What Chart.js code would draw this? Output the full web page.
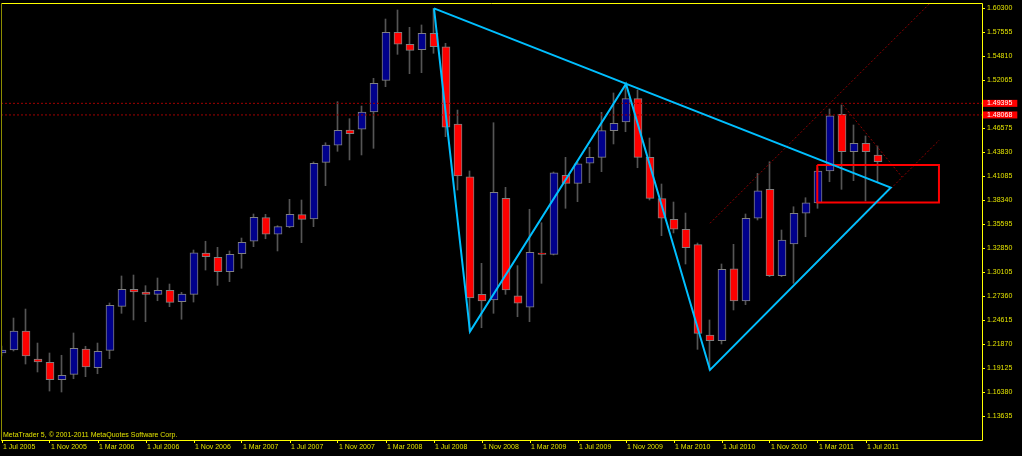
<!DOCTYPE html>
<html>
<head>
<meta charset="utf-8">
<script src="https://cdn.jsdelivr.net/npm/chart.js@4/dist/chart.umd.min.js"></script>
<style>
html,body{margin:0;padding:0;background:#000;overflow:hidden}
#wrap{position:relative;width:1022px;height:456px}
canvas{display:block}
</style>
</head>
<body>
<div id="wrap"><canvas id="c" width="1022" height="456"></canvas></div>
<script>
// Monthly EURUSD candles, index 0 = Jul 2005
const openP = [1.2084,1.2118,1.2336,1.2015,1.1978,1.1779,1.1840,1.2130,1.1916,1.2115,
  1.2618,1.2813,1.2782,1.2755,1.2801,1.2671,1.2755,1.3228,1.3179,1.3014,
  1.3220,1.3362,1.3632,1.3442,1.3525,1.3666,1.3617,1.4265,1.4460,1.4635,
  1.4643,1.4841,1.5203,1.5752,1.5615,1.5553,1.5741,1.5587,1.4703,1.4100,
  1.2755,1.2690,1.3853,1.2739,1.2607,1.3228,1.3213,1.4117,1.4025,1.4254,
  1.4322,1.4627,1.4726,1.4993,1.4322,1.3849,1.3613,1.3499,1.3323,1.2290,
  1.2225,1.3048,1.2679,1.3625,1.3956,1.2968,1.3331,1.3682,1.3800,1.4166,
  1.4814,1.4386,1.4483,1.4349];
const highP = [1.2164,1.2484,1.2587,1.2198,1.2084,1.2058,1.2313,1.2161,1.2198,1.2656,
  1.2965,1.2976,1.2854,1.2942,1.2873,1.2778,1.3262,1.3362,1.3293,1.3251,
  1.3399,1.3674,1.3670,1.3540,1.3842,1.3834,1.4269,1.4489,1.4958,1.4764,
  1.4909,1.5226,1.5904,1.6007,1.5809,1.5836,1.6025,1.5626,1.4863,1.4166,
  1.3110,1.4718,1.3979,1.3083,1.3728,1.3574,1.4154,1.4322,1.4265,1.4437,
  1.4837,1.5058,1.5161,1.5092,1.4543,1.4017,1.3811,1.3685,1.3342,1.2462,
  1.3102,1.3327,1.3674,1.4139,1.4272,1.3491,1.3757,1.3860,1.4200,1.4875,
  1.4921,1.4692,1.4566,1.4452];
const lowP = [1.2050,1.2107,1.1958,1.1867,1.1649,1.1638,1.1790,1.1813,1.1847,1.2019,
  1.2538,1.2462,1.2442,1.2682,1.2614,1.2470,1.2667,1.3033,1.2858,1.2900,
  1.3053,1.3300,1.3391,1.3251,1.3517,1.3346,1.3529,1.3998,1.4391,1.4292,
  1.4349,1.4425,1.5130,1.5500,1.5279,1.5290,1.5512,1.4558,1.3948,1.2330,
  1.2373,1.2538,1.2755,1.2499,1.2442,1.2881,1.3205,1.3739,1.3815,1.4032,
  1.4158,1.4475,1.4615,1.4203,1.3834,1.3426,1.3457,1.3102,1.2126,1.1890,
  1.2187,1.2576,1.2637,1.3605,1.2957,1.2957,1.2881,1.3414,1.3739,1.4043,
  1.3956,1.4055,1.3823,1.4043];
const closeP = [1.2118,1.2336,1.2050,1.1981,1.1779,1.1829,1.2138,1.1924,1.2104,1.2630,
  1.2813,1.2782,1.2755,1.2801,1.2664,1.2759,1.3231,1.3186,1.3014,1.3213,
  1.3350,1.3636,1.3442,1.3529,1.3670,1.3613,1.4254,1.4463,1.4631,1.4592,
  1.4841,1.5169,1.5752,1.5615,1.5546,1.5741,1.5587,1.4666,1.4109,1.2713,
  1.2679,1.3922,1.2805,1.2653,1.3236,1.3213,1.4146,1.4025,1.4249,1.4322,
  1.4627,1.4711,1.4993,1.4322,1.3853,1.3625,1.3499,1.3288,1.2309,1.2225,
  1.3041,1.2679,1.3625,1.3940,1.2968,1.3377,1.3682,1.3803,1.4166,1.4798,
  1.4386,1.4483,1.4386,1.4272];

// Axis ticks
const xTickValues = [0,4,8,12,16,20,24,28,32,36,40,44,48,52,56,60,64,68,72];
const xTickLabels = ['1 Jul 2005','1 Nov 2005','1 Mar 2006','1 Jul 2006','1 Nov 2006','1 Mar 2007',
  '1 Jul 2007','1 Nov 2007','1 Mar 2008','1 Jul 2008','1 Nov 2008','1 Mar 2009','1 Jul 2009',
  '1 Nov 2009','1 Mar 2010','1 Jul 2010','1 Nov 2010','1 Mar 2011','1 Jul 2011'];
const yTickValues = [1.13635,1.16380,1.19125,1.21870,1.24615,1.27360,1.30105,1.32850,1.35595,
  1.38340,1.41085,1.43830,1.46575,1.48068,1.49395,1.52065,1.54810,1.57555,1.60300];
const priceLevels = [1.49395,1.48068];

// Drawn objects
const patternX = [36,39,52,59,74.06,36];
const patternY = [1.6025,1.2330,1.5161,1.1890,1.3975,1.6025];
const channelUpperX = [59,77.27];
const channelUpperY = [1.3568,1.6076];
const channelLowerX = [59,78.11];
const channelLowerY = [1.1890,1.4520];
const fanX = [70.08,75.0];
const fanY = [1.4921,1.4097];
const boxX = [67.94,78.08,78.08,67.94,67.94];
const boxY = [1.4234,1.4234,1.3806,1.3806,1.4234];

const X_MIN = -1/12, X_MAX = 81 + 8/12;
const Y_MAX = 1.60872, Y_MIN = 1.10890;

const monthIndex = openP.map((_, i) => i);
const wickShift = 0.5 / 12;
const pts = (xs, ys) => xs.map((x, k) => ({x: x, y: ys[k]}));

const YELLOW = '#ffff00';
const TEXT = '#e2e200';

Chart.defaults.font.family = '"Liberation Sans", Arial, sans-serif';
Chart.defaults.font.size = 7;

const framePlugin = {
  id: 'frame',
  beforeDraw(chart) {
    const ctx = chart.ctx;
    ctx.save();
    ctx.fillStyle = '#000';
    ctx.fillRect(0, 0, chart.width, chart.height);
    ctx.restore();
  },
  afterDraw(chart) {
    const {ctx, chartArea: a} = chart;
    ctx.save();
    ctx.lineWidth = 1;
    ctx.strokeStyle = YELLOW;
    ctx.beginPath();
    ctx.moveTo(a.left, a.top + 0.5);
    ctx.lineTo(a.right + 0.5, a.top + 0.5);
    ctx.lineTo(a.right + 0.5, a.bottom + 0.5);
    ctx.lineTo(a.left, a.bottom + 0.5);
    ctx.stroke();
    ctx.strokeStyle = '#8c8c00';
    ctx.beginPath();
    ctx.moveTo(a.left + 0.5, a.top);
    ctx.lineTo(a.left + 0.5, a.bottom + 0.5);
    ctx.stroke();
    ctx.fillStyle = TEXT;
    ctx.font = '7px "Liberation Sans", Arial, sans-serif';
    ctx.textBaseline = 'alphabetic';
    ctx.fillText('MetaTrader 5, \u00A9 2001-2011 MetaQuotes Software Corp.', 3, 437);
    ctx.restore();
  }
};

new Chart(document.getElementById('c'), {
  type: 'bar',
  data: {
    datasets: [
      {
        type: 'line', label: 'pattern', order: 0,
        data: pts(patternX, patternY),
        borderColor: '#00bfff', borderWidth: 2, pointRadius: 0, tension: 0, fill: false
      },
      {
        type: 'line', label: 'box', order: 1,
        data: pts(boxX, boxY),
        borderColor: '#ff0000', borderWidth: 2, pointRadius: 0, tension: 0, fill: false,
        borderJoinStyle: 'miter'
      },
      ...priceLevels.map(v => ({
        type: 'line', label: 'level ' + v, order: 1,
        data: [{x: X_MIN, y: v}, {x: X_MAX, y: v}],
        borderColor: '#a00000', borderWidth: 1, borderDash: [2, 2], pointRadius: 0, fill: false
      })),
      {
        type: 'line', label: 'channel upper', order: 1,
        data: pts(channelUpperX, channelUpperY),
        borderColor: '#8c0000', borderWidth: 1, borderDash: [2, 2], pointRadius: 0, fill: false
      },
      {
        type: 'line', label: 'channel lower', order: 1,
        data: pts(channelLowerX, channelLowerY),
        borderColor: '#8c0000', borderWidth: 1, borderDash: [2, 2], pointRadius: 0, fill: false
      },
      {
        type: 'line', label: 'fan', order: 1,
        data: pts(fanX, fanY),
        borderColor: '#8c0000', borderWidth: 1, borderDash: [2, 2], pointRadius: 0, fill: false
      },
      {
        label: 'bodies', order: 2,
        data: monthIndex.map(i => ({x: i, y: [openP[i], closeP[i]]})),
        backgroundColor: ctx => closeP[ctx.dataIndex] >= openP[ctx.dataIndex] ? '#00008c' : '#ff0000',
        borderColor: '#808080', borderWidth: 1, borderSkipped: false,
        barThickness: 8, grouped: false
      },
      {
        label: 'wicks', order: 3,
        data: monthIndex.map(i => ({x: i - wickShift, y: [lowP[i], highP[i]]})),
        backgroundColor: '#555555', borderWidth: 0,
        barThickness: 1, grouped: false
      }
    ]
  },
  options: {
    responsive: false,
    animation: false,
    events: [],
    layout: {padding: {left: 1, top: 3, right: 0, bottom: 0}},
    plugins: {legend: {display: false}, tooltip: {enabled: false}},
    scales: {
      x: {
        type: 'linear', min: X_MIN, max: X_MAX, bounds: 'data', offset: false,
        grid: {display: true, drawOnChartArea: false, drawTicks: true, tickLength: 3, color: YELLOW, offset: false},
        border: {display: false},
        afterBuildTicks: s => { s.ticks = xTickValues.map(v => ({value: v})); },
        afterFit: s => { s.height = 16; s.paddingLeft = 0; s.paddingRight = 0; },
        ticks: {
          autoSkip: false, maxRotation: 0, minRotation: 0, align: 'start', padding: 0, labelOffset: 1,
          color: TEXT, font: {size: 7},
          callback: (v, i) => xTickLabels[i]
        }
      },
      y: {
        type: 'linear', position: 'right', min: Y_MIN, max: Y_MAX, bounds: 'data',
        grid: {display: true, drawOnChartArea: false, drawTicks: true, tickLength: 3, color: YELLOW},
        border: {display: false},
        afterBuildTicks: s => { s.ticks = yTickValues.map(v => ({value: v})); },
        afterFit: s => { s.width = 40; s.paddingTop = 0; s.paddingBottom = 0; },
        ticks: {
          autoSkip: false, padding: 2,
          font: {size: 7, lineHeight: 1},
          color: c => priceLevels.includes(c.tick && c.tick.value) ? '#ffffff' : TEXT,
          showLabelBackdrop: c => priceLevels.includes(c.tick && c.tick.value),
          backdropColor: '#ff0000',
          backdropPadding: {left: 4, right: 5, top: 0, bottom: 0},
          callback: v => v.toFixed(5)
        }
      }
    }
  },
  plugins: [framePlugin]
});
</script>
</body>
</html>
